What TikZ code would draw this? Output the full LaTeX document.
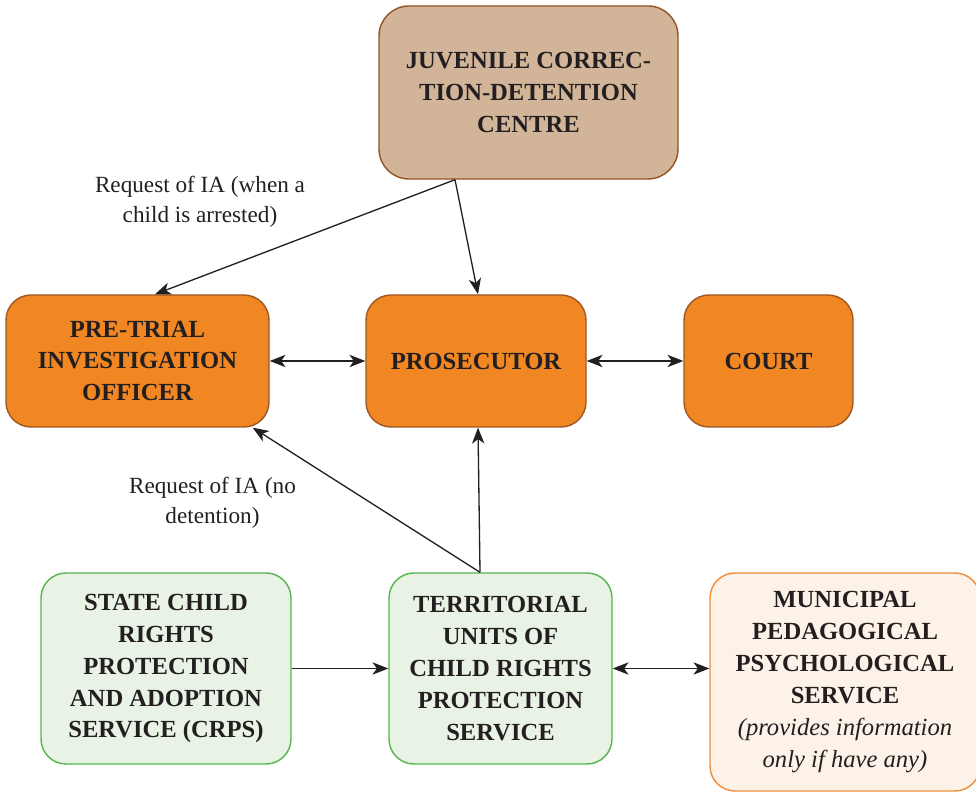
\documentclass[tikz,border=0pt]{standalone}
\usepackage{fontspec}
\setmainfont{Liberation Serif}
\usetikzlibrary{arrows.meta}
\definecolor{tanfill}{RGB}{210,181,152}
\definecolor{tanline}{RGB}{150,82,35}
\definecolor{orfill}{RGB}{240,135,35}
\definecolor{orline}{RGB}{160,88,35}
\definecolor{grfill}{RGB}{233,243,229}
\definecolor{grline}{RGB}{85,180,75}
\definecolor{pkfill}{RGB}{252,242,232}
\definecolor{pkline}{RGB}{240,140,55}
\definecolor{txt}{RGB}{35,31,32}
\begin{document}
\begin{tikzpicture}[
    box/.style={rectangle, rounded corners=0.5cm, line width=0.8pt, align=center,
        inner sep=0pt, text=txt, font=\fontsize{14}{18.2}\selectfont\bfseries},
    juvbox/.style={box, fill=tanfill, draw=tanline, rounded corners=0.6cm},
    orbox/.style={box, fill=orfill, draw=orline},
    grbox/.style={box, fill=grfill, draw=grline},
    pkbox/.style={box, fill=pkfill, draw=pkline},
    lbl/.style={align=center, text=txt, font=\fontsize{13.2}{17}\selectfont},
    link/.style={-{Stealth[length=9pt,width=7pt,inset=2.5pt]}, line width=0.75pt, txt},
    twoway/.style={{Stealth[length=9pt,width=7pt,inset=2.5pt]}-{Stealth[length=9pt,width=7pt,inset=2.5pt]}, line width=0.75pt, txt}
  ]
    \useasboundingbox (0,0) rectangle (19.52,15.86);
    \begin{scope}
    \clip (0,0) rectangle (19.52,15.86);

    % Kaestchen oben und Mitte
    \node[juvbox, minimum width=5.98cm, minimum height=3.46cm] (juv) at (10.57,14.01)
        {JUVENILE CORREC-\\TION-DETENTION\\CENTRE};
    \node[orbox, minimum width=5.26cm, minimum height=2.64cm] (pti) at (2.75,8.64)
        {PRE-TRIAL\\INVESTIGATION\\OFFICER};
    \node[orbox, minimum width=4.4cm, minimum height=2.64cm] (pros) at (9.52,8.64)
        {PROSECUTOR};
    \node[orbox, minimum width=3.38cm, minimum height=2.64cm] (court) at (15.37,8.64)
        {COURT};

    % Kaestchen unten
    \node[grbox, minimum width=5.0cm, minimum height=3.82cm] (state) at (3.32,2.49)
        {STATE CHILD\\RIGHTS\\PROTECTION\\AND ADOPTION\\SERVICE (CRPS)};
    \node[grbox, minimum width=4.46cm, minimum height=3.82cm] (terr) at (10.01,2.49)
        {TERRITORIAL\\UNITS OF\\CHILD RIGHTS\\PROTECTION\\SERVICE};
    \node[pkbox, minimum width=5.4cm, minimum height=4.36cm] (muni) at (16.9,2.22)
        {MUNICIPAL\\PEDAGOGICAL\\PSYCHOLOGICAL\\SERVICE\\\mdseries\itshape (provides information\\\mdseries\itshape only if have any)};
    \end{scope}

    % Beschriftungen
    \node[lbl] (req1) at (4.0,11.82) {Request of IA (when a\\child is arrested)};
    \node[lbl] (req2) at (4.25,5.8) {Request of IA (no\\detention)};

    % Verbindungspfeile
    \draw[link] ([xshift=-1.47cm]juv.south) -- ([xshift=0.35cm]pti.north);
    \draw[link] ([xshift=-1.47cm]juv.south) -- ([xshift=0.04cm]pros.north);
    \draw[twoway] (pti.east) -- (pros.west);
    \draw[twoway] (pros.east) -- (court.west);
    \draw[link] ([xshift=-0.41cm]terr.north) -- ([xshift=-0.34cm]pti.south east);
    \draw[link] ([xshift=-0.41cm]terr.north) -- ([xshift=0.04cm]pros.south);
    \draw[link] (state.east) -- (terr.west);
    \draw[twoway] (terr.east) -- (terr.east -| muni.west);
\end{tikzpicture}
\end{document}
